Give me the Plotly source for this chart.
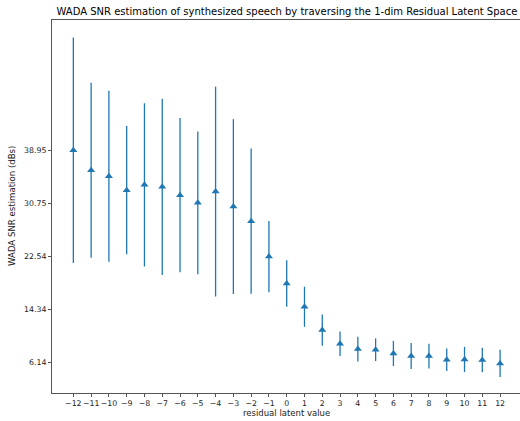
import plotly.graph_objects as go

latent_values = list(range(-12, 13))
snr_mean = [38.95, 35.86, 34.94, 32.78, 33.60, 33.29, 32.01, 30.82, 32.56, 30.25, 28.00,
            22.54, 18.37, 14.78, 11.18, 9.07, 8.25, 8.15, 7.57, 7.17, 7.17, 6.60, 6.65, 6.56, 6.03]
snr_std = [17.4, 13.5, 13.2, 9.9, 12.6, 13.6, 11.9, 11.0, 16.2, 13.5, 11.2,
           5.5, 3.6, 3.1, 2.4, 1.9, 1.9, 1.75, 1.95, 2.0, 1.9, 1.75, 1.95, 1.9, 2.1]
ytick_vals = [6.14, 14.34, 22.54, 30.75, 38.95]
ytick_text = ["6.14", "14.34", "22.54", "30.75", "38.95"]

C0 = "#1f77b4"
FONT = "DejaVu Sans"
TXT = "#222222"

fig = go.Figure()
fig.add_trace(go.Scatter(
    x=latent_values, y=snr_mean, mode="markers",
    marker=dict(symbol="triangle-up", size=7, color=C0),
    error_y=dict(type="data", array=snr_std, visible=True, color=C0, thickness=1.3, width=0),
    showlegend=False,
))

fig.update_layout(
    width=520, height=421,
    margin=dict(l=52, r=0, t=20, b=28),
    paper_bgcolor="white", plot_bgcolor="white",
    font=dict(family=FONT, color=TXT, size=7.5),
    title=dict(text="WADA SNR estimation of synthesized speech by traversing the 1-dim Residual Latent Space",
               xref="paper", x=0.502, xanchor="center", y=1 - 11 / 421, yanchor="middle",
               font=dict(family=FONT, size=10, color="black")),
)
fig.update_xaxes(
    range=[-13.2, 13.12], tickmode="array", tickvals=latent_values,
    ticktext=[("\u2212" + str(-v)) if v < 0 else str(v) for v in latent_values],
    tickangle=0,
    showgrid=False, zeroline=False, showline=True, linecolor="#555555", linewidth=1, mirror=True,
    ticks="outside", ticklen=3, tickwidth=1, tickcolor="#555555",
    tickfont=dict(size=7.8, family=FONT, color=TXT), automargin=False,
)
fig.update_yaxes(
    range=[1.47, 59.05], tickmode="array", tickvals=ytick_vals, ticktext=ytick_text,
    showgrid=False, zeroline=False, showline=True, linecolor="#555555", linewidth=1,
    ticks="outside", ticklen=3, tickwidth=1, tickcolor="#555555",
    tickfont=dict(size=7.8, family=FONT, color=TXT), automargin=False,
)
fig.add_annotation(text="residual latent value", xref="paper", yref="paper",
                   x=(286 - 52) / 468, y=-(413 - 393) / 373, xanchor="center", yanchor="middle",
                   showarrow=False, font=dict(size=8.5, family=FONT, color=TXT))
fig.add_annotation(text="WADA SNR estimation (dBs)", xref="paper", yref="paper",
                   x=-(52 - 12) / 468, y=(393 - 206) / 373, xanchor="center", yanchor="middle",
                   textangle=-90, showarrow=False, font=dict(size=8.6, family=FONT, color=TXT))

fig.write_html("out.html", config={"displayModeBar": False},
               post_script="document.body.style.margin='0';document.body.style.overflow='hidden';")
